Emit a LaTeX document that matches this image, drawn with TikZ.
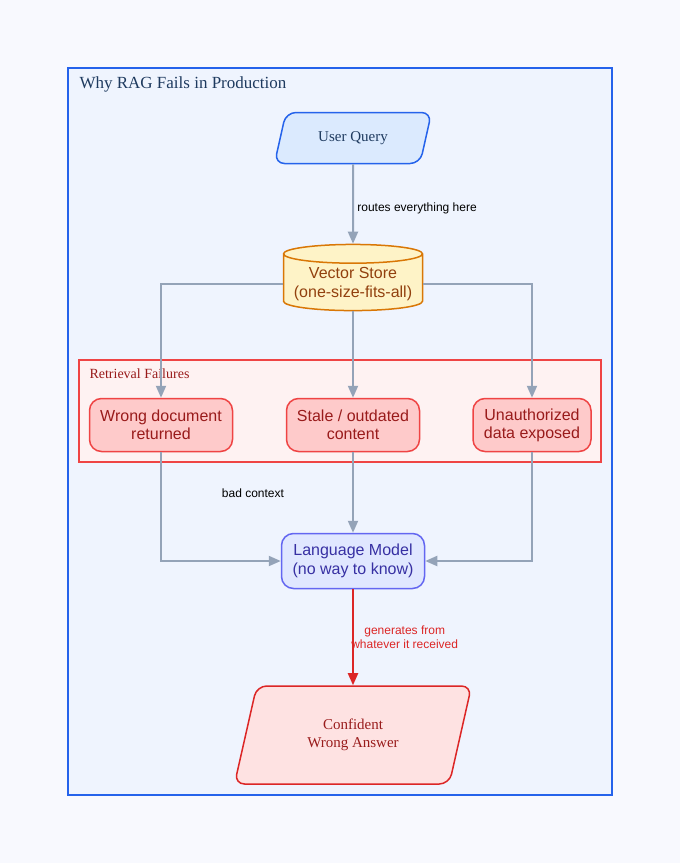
\documentclass[tikz,border=0pt]{standalone}
\usepackage{fontspec}
\setmainfont{Liberation Serif}
\setsansfont{Liberation Sans}
\usetikzlibrary{shapes.geometric,arrows.meta}
\definecolor{pagebg}{HTML}{F8F9FE}
\definecolor{framebg}{HTML}{EFF4FE}
\definecolor{frameblue}{HTML}{2563EB}
\definecolor{titleink}{HTML}{1E3A5F}
\definecolor{qfill}{HTML}{DBEAFE}
\definecolor{storefill}{HTML}{FEF3C7}
\definecolor{storeline}{HTML}{D97706}
\definecolor{storeink}{HTML}{92400E}
\definecolor{failbg}{HTML}{FEF2F2}
\definecolor{failline}{HTML}{EF4444}
\definecolor{failfill}{HTML}{FECACA}
\definecolor{failink}{HTML}{991B1B}
\definecolor{lmfill}{HTML}{E0E7FF}
\definecolor{lmline}{HTML}{6366F1}
\definecolor{lmink}{HTML}{3730A3}
\definecolor{ansfill}{HTML}{FEE2E2}
\definecolor{ansline}{HTML}{DC2626}
\definecolor{wire}{HTML}{94A3B8}
\begin{document}
\begin{tikzpicture}[x=1pt,y=-1pt,
    link/.style={draw=wire,line width=2pt,-{Triangle[length=12pt,width=10pt]}},
    fail/.style={rectangle,rounded corners=12pt,draw=failline,fill=failfill,line width=1.5pt,
      text=failink,font=\sffamily\fontsize{16}{18}\selectfont,align=center,minimum height=53pt},
    slanted/.style={trapezium,trapezium left angle=60,trapezium right angle=120,
      trapezium stretches body,rounded corners=10pt,line width=1.5pt,align=center},
    tag/.style={font=\sffamily\fontsize{12}{14}\selectfont,align=center}]
  \useasboundingbox[fill=pagebg] (0,0) rectangle (680,863);
  \draw[frameblue,fill=framebg,line width=2pt] (68,68) rectangle (612,795);
  \node[anchor=west,text=titleink,font=\fontsize{17}{20}\selectfont] (title) at (76,84) {Why RAG Fails in Production};
  \draw[failline,fill=failbg,line width=1.5pt] (79,360) rectangle (601,462);
  \node[anchor=west,text=failink,font=\fontsize{14}{16}\selectfont] (group) at (86,374) {Retrieval Failures};

  \node[slanted,draw=frameblue,fill=qfill,text=titleink,minimum width=157pt,minimum height=51pt,
    font=\fontsize{15}{17}\selectfont] (query) at (353,138) {User Query};
  \node[cylinder,shape border rotate=90,aspect=0.15,draw=storeline,fill=storefill,line width=1.5pt,
    text=storeink,minimum width=139pt,minimum height=66pt,align=center,
    font=\sffamily\fontsize{16}{19}\selectfont] (store) at (353,284) {Vector Store\\(one-size-fits-all)};
  \node[fail,minimum width=143pt] (wrong) at (161,425) {Wrong document\\returned};
  \node[fail,minimum width=133pt] (stale) at (353,425) {Stale / outdated\\content};
  \node[fail,minimum width=118pt] (unauth) at (532,425) {Unauthorized\\data exposed};
  \node[rectangle,rounded corners=12pt,draw=lmline,fill=lmfill,line width=1.5pt,text=lmink,
    minimum width=143pt,minimum height=55pt,align=center,font=\sffamily\fontsize{16}{19}\selectfont]
    (model) at (353,561) {Language Model\\(no way to know)};
  \node[slanted,draw=ansline,fill=ansfill,text=failink,minimum width=237pt,minimum height=98pt,
    font=\fontsize{15}{18}\selectfont] (answer) at (353,735) {Confident\\Wrong Answer};

  \draw[link] (query) -- (store) node[pos=0.55,right,tag] {routes everything here};
  \draw[link] (store.west) -| (wrong);
  \draw[link] (store) -- (stale);
  \draw[link] (store.east) -| (unauth);
  \draw[link] (wrong) |- (model);
  \draw[link] (stale) -- (model);
  \draw[link] (unauth) |- (model);
  \node[tag] (badctx) at (253,493) {bad context};
  \draw[draw=ansline,line width=2pt,-{Triangle[length=12pt,width=10pt]}] (model) -- (answer)
    node[pos=0.5,right,tag,text=ansline,xshift=-6pt] {generates from\\whatever it received};
\end{tikzpicture}
\end{document}
